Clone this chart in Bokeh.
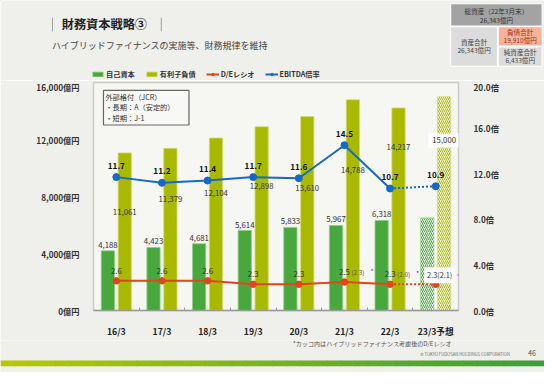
import numpy as np
from bokeh.plotting import figure
from bokeh.layouts import column
from bokeh.models import (Range1d, LinearAxis, FixedTicker, Label, BoxAnnotation,
                          Legend, LegendItem)
from bokeh.core.properties import value
from bokeh.embed import file_html
from bokeh.resources import INLINE

# ---------------- data ----------------
categories = ["16/3", "17/3", "18/3", "19/3", "20/3", "21/3", "22/3", "23/3予想"]
equity = [4188, 4423, 4681, 5614, 5833, 5967, 6318, 6500]          # 自己資本 (last = forecast)
debt = [11061, 11379, 12104, 12898, 13610, 14788, 14217, 15000]      # 有利子負債 (last = forecast)
de_ratio = [2.6, 2.6, 2.6, 2.3, 2.3, 2.5, 2.3, 2.3]                  # D/Eレシオ
de_hybrid = ["", "", "", "", "", "2.3", "2.0", "2.1"]                # ハイブリッド考慮後
ebitda = [11.7, 11.2, 11.4, 11.7, 11.6, 14.5, 10.7, 10.9]            # EBITDA倍率
left_ticks = [0, 4000, 8000, 12000, 16000]
left_tick_labels = ["0億円", "4,000億円", "8,000億円", "12,000億円", "16,000億円"]
right_ticks = [0, 4, 8, 12, 16, 20]
right_tick_labels = ["0.0倍", "4.0倍", "8.0倍", "12.0倍", "16.0倍", "20.0倍"]

# layout only: vertical placement of the debt value labels (in 億円 units)
debt_label_pos = [6885, 7803, 8262, 8721, 8590, 9836, 11475, 11934]

FONT = "Noto Sans CJK JP"
GREEN = "#48a83d"
OLIVE = "#a9b900"
RED = "#e0461d"
BLUE = "#1769c6"
TXT = "#333333"
BG = "#efefeb"

W, H = 544, 372
SX, SY = W / 560.0, H / 388.0     # slide (560x388) -> canvas scale

H_TOP = 80
H_CHART = 260
H_BOT = H - H_TOP - H_CHART

FR_L, FR_R = 93, 458              # chart frame edges (canvas px)
FR_T, FR_B = 82, 316


def deco_fig(h, y0):
    f = figure(width=W, height=h, output_backend="svg", toolbar_location=None,
               x_range=Range1d(0, W / SX), y_range=Range1d((y0 + h) / SY, y0 / SY),
               x_axis_type=None, y_axis_type=None, min_border=0, frame_align=False)
    f.grid.visible = False
    f.outline_line_color = None
    f.background_fill_color = BG
    f.border_fill_color = BG
    return f


def box(f, l, r, t, b, fill, line=None, lw=1, xr="default", yr="default"):
    f.add_layout(BoxAnnotation(left=l, right=r, top=t, bottom=b, x_range_name=xr,
                               y_range_name=yr, fill_color=fill, fill_alpha=1,
                               line_color=line, line_alpha=1, line_width=lw))


def lab(f, x, y, text, size, color=TXT, style="normal", align="left", xr="default", yr="default"):
    f.add_layout(Label(x=x, y=y, x_range_name=xr, y_range_name=yr, text=text,
                       text_font=FONT, text_font_size=size, text_color=color,
                       text_font_style=style, text_align=align, text_baseline="middle"))


# ======================= chart =======================
p = figure(width=W, height=H_CHART, output_backend="svg", toolbar_location=None,
           x_range=Range1d(0, 8), y_range=Range1d(0, 16000), frame_align=False,
           min_border_left=FR_L, min_border_right=W - FR_R,
           min_border_top=FR_T - H_TOP, min_border_bottom=H_TOP + H_CHART - FR_B)
p.background_fill_color = "#f6f6f3"
p.border_fill_color = BG
p.outline_line_color = "#cbcbcb"
p.outline_line_width = 1.5
p.grid.visible = False

p.extra_y_ranges = {"r": Range1d(0, 20), "py": Range1d(FR_B / SY, FR_T / SY)}
p.extra_x_ranges = {"px": Range1d(FR_L / SX, FR_R / SX)}

n = len(categories)
xc = np.arange(n) + 0.5
off = 0.185
bw = 0.29

xa = p.xaxis[0]
xa.ticker = FixedTicker(ticks=list(xc), minor_ticks=list(range(1, n)))
xa.major_label_overrides = {float(x): c for x, c in zip(xc, categories)}
xa.major_tick_line_color = None
xa.minor_tick_in = 3
xa.minor_tick_out = 0
xa.minor_tick_line_color = "#9a9a9a"
xa.axis_line_color = "#9a9a9a"
xa.axis_line_width = 1.5
xa.major_label_text_font = FONT
xa.major_label_text_font_size = "8.7px"
xa.major_label_text_font_style = "bold"
xa.major_label_text_color = "#222222"
xa.major_label_standoff = 8

ya = p.yaxis[0]
ya.ticker = FixedTicker(ticks=left_ticks)
ya.major_label_overrides = dict(zip(left_ticks, left_tick_labels))
ya.axis_line_color = None
ya.major_tick_line_color = None
ya.minor_tick_line_color = None
ya.major_label_standoff = 8
ya.major_label_text_font = FONT
ya.major_label_text_font_size = "8.2px"
ya.major_label_text_font_style = "bold"
ya.major_label_text_color = TXT

ra = LinearAxis(y_range_name="r", ticker=FixedTicker(ticks=right_ticks),
                major_label_overrides=dict(zip(right_ticks, right_tick_labels)))
ra.axis_line_color = None
ra.major_tick_line_color = None
ra.minor_tick_line_color = None
ra.major_label_standoff = 9
ra.major_label_text_font = FONT
ra.major_label_text_font_size = "8.2px"
ra.major_label_text_font_style = "bold"
ra.major_label_text_color = TXT
p.add_layout(ra, "right")

na = n - 1
bar_eq = dict(fill_color=GREEN, line_color="#8fcf84", line_width=0.8)
bar_debt = dict(fill_color=OLIVE, line_color="#d2dc70", line_width=0.8)
p.vbar(x=xc[:na] - off, top=equity[:na], width=bw, **bar_eq)
p.vbar(x=xc[:na] + off, top=debt[:na], width=bw, **bar_debt)
p.vbar(x=xc[na:] - off, top=equity[na:], width=bw, fill_color="#f1f7ec",
       line_color="#9dd290", line_width=0.8, hatch_pattern="/", hatch_color=GREEN,
       hatch_scale=4, hatch_weight=1)
p.vbar(x=xc[na:] + off, top=debt[na:], width=bw, fill_color="#f6f8e2",
       line_color="#d5de7a", line_width=0.8, hatch_pattern="/", hatch_color=OLIVE,
       hatch_scale=4, hatch_weight=1)

p.line(xc[:na], de_ratio[:na], y_range_name="r", color=RED, line_width=2)
p.line(xc[na - 1:], de_ratio[na - 1:], y_range_name="r", color=RED, line_width=2, line_dash="2 2")
p.scatter(xc, de_ratio, y_range_name="r", size=6.5, color=RED)

p.line(xc[:na], ebitda[:na], y_range_name="r", color=BLUE, line_width=2)
p.line(xc[na - 1:], ebitda[na - 1:], y_range_name="r", color=BLUE, line_width=2, line_dash="2 2")
p.scatter(xc, ebitda, y_range_name="r", size=7, color=BLUE)

p.text(x=xc[:na] - off, y=equity[:na], text=[f"{v:,}" for v in equity[:na]],
       y_offset=-3, text_align="center", text_baseline="bottom",
       text_font=value(FONT), text_font_size="7.8px", text_color=TXT)
p.text(x=xc[:na] + off, y=debt_label_pos[:na], text=[f"{v:,}" for v in debt[:na]],
       text_align="center", text_baseline="middle",
       text_font=value(FONT), text_font_size="7.8px", text_color=TXT)
p.add_layout(Label(x=xc[na] + off, y=debt_label_pos[na], text=f"{debt[na]:,}",
                   text_align="center", text_baseline="middle", text_font=FONT,
                   text_font_size="7.8px", text_color=TXT, background_fill_color="white",
                   padding=4))

p.text(x=xc, y=ebitda, y_range_name="r", text=[f"{v:.1f}" for v in ebitda],
       y_offset=-12, text_align="center", text_baseline="middle",
       text_font=value(FONT), text_font_size="8.2px", text_font_style="bold",
       text_color="#111111")

p.text(x=xc[:na], y=de_ratio[:na], y_range_name="r", text=[f"{v:.1f}" for v in de_ratio[:na]],
       y_offset=-10, text_align="center", text_baseline="middle",
       text_font=value(FONT), text_font_size="7.8px", text_color=TXT)
hy_idx = [i for i in range(na) if de_hybrid[i]]
p.text(x=xc[hy_idx], y=[de_ratio[i] for i in hy_idx], y_range_name="r",
       text=[f"({de_hybrid[i]})" for i in hy_idx], x_offset=7, y_offset=-10,
       text_align="left", text_baseline="middle",
       text_font=value(FONT), text_font_size="6.3px", text_color="#555555")
p.text(x=xc[hy_idx], y=[de_ratio[i] for i in hy_idx], y_range_name="r",
       text=["*"] * len(hy_idx), x_offset=26, y_offset=-11,
       text_align="left", text_baseline="middle",
       text_font=value(FONT), text_font_size="7px", text_color="#555555")
p.add_layout(Label(x=xc[na], y=de_ratio[na], y_range_name="r",
                   text=f"{de_ratio[na]:.1f}({de_hybrid[na]})", x_offset=4, y_offset=9,
                   text_align="center", text_baseline="middle", text_font=FONT,
                   text_font_size="7.3px", text_color=TXT, background_fill_color="white",
                   padding=3))
p.add_layout(Label(x=xc[na], y=de_ratio[na], y_range_name="r", text="*",
                   x_offset=21, y_offset=8, text_align="left", text_baseline="middle",
                   text_font=FONT, text_font_size="7px", text_color="#555555"))

# rating box (inside the frame; slide-pixel coordinates)
box(p, 106, 194, 94, 131, "#f8f8f6", "#666666", 1.2, "px", "py")
lab(p, 108, 101, "外部格付（JCR）", "7.2px", xr="px", yr="py")
lab(p, 108, 112, "・長期：A（安定的）", "7.2px", xr="px", yr="py")
lab(p, 108, 123, "・短期：J-1", "7.2px", xr="px", yr="py")

# ======================= top strip =======================
top = deco_fig(H_TOP, 0)
box(top, 53, 54, 18, 32, "#9a9a9a")
box(top, 165, 166, 18, 32, "#9a9a9a")
lab(top, 63, 25, "財務資本戦略③", "12.2px", "#222222", "bold")
lab(top, 53, 47, "ハイブリッドファイナンスの実施等、財務規律を維持", "9px", "#444444")

box(top, 463, 558, 3, 69, "#ffffff")
box(top, 464, 557, 4, 26, "#a3a3a3")
box(top, 464, 511, 28, 68, "#dcdcdc")
box(top, 513, 557, 28, 47, "#f6b39a")
box(top, 513, 557, 49, 68, "#dcdcdc")
lab(top, 510.5, 11, "総資産（22年3月末）", "6.6px", "#333333", align="center")
lab(top, 510.5, 20, "26,343億円", "6.6px", "#333333", align="center")
lab(top, 487.5, 43, "資産合計", "6.6px", "#444444", align="center")
lab(top, 487.5, 52, "26,343億円", "6.6px", "#444444", align="center")
lab(top, 535, 33, "負債合計", "6.6px", "#a0301a", align="center")
lab(top, 535, 41, "19,910億円", "6.6px", "#a0301a", align="center")
lab(top, 535, 54, "純資産合計", "6.6px", "#444444", align="center")
lab(top, 535, 62, "6,433億円", "6.6px", "#444444", align="center")

# legend swatches: off-canvas single points carrying the chart's mark styles
far = [-1000.0]
lg_eq = top.vbar(x=far, top=far, width=1, **bar_eq)
lg_debt = top.vbar(x=far, top=far, width=1, **bar_debt)
lg_de_l = top.line(x=far, y=far, color=RED, line_width=2)
lg_de_p = top.scatter(x=far, y=far, size=6, color=RED)
lg_eb_l = top.line(x=far, y=far, color=BLUE, line_width=2)
lg_eb_p = top.scatter(x=far, y=far, size=6, color=BLUE)
legend = Legend(items=[LegendItem(label="自己資本", renderers=[lg_eq]),
                       LegendItem(label="有利子負債", renderers=[lg_debt]),
                       LegendItem(label="D/Eレシオ", renderers=[lg_de_l, lg_de_p]),
                       LegendItem(label="EBITDA倍率", renderers=[lg_eb_l, lg_eb_p])],
                orientation="horizontal", location=(91, 1), margin=0, padding=0,
                spacing=10, glyph_width=13, glyph_height=6, label_height=7,
                label_standoff=2, background_fill_alpha=0, border_line_color=None,
                label_text_font=FONT, label_text_font_size="7.2px",
                label_text_font_style="bold", label_text_color=TXT)
top.add_layout(legend, "center")

# ======================= bottom strip =======================
bot = deco_fig(H_BOT, H_TOP + H_CHART)
lab(bot, 301, 358, "*カッコ内はハイブリッドファイナンス考慮後のD/Eレシオ", "6.1px", "#555555")
lab(bot, 432, 369, "© TOKYU FUDOSAN HOLDINGS CORPORATION", "4.2px", "#666666")
lab(bot, 543, 368, "46", "7.2px", "#555555")
c0 = np.array([0xb6, 0xc9, 0x00])
c1 = np.array([0x3c, 0x9e, 0x3a])
nseg = 40
edges = np.linspace(0, 560, nseg + 1)
for k in range(nseg):
    t = k / (nseg - 1)
    c = (c0 * (1 - t) + c1 * t).astype(int)
    box(bot, edges[k], edges[k + 1] + 0.6, 375.5, 381.5, "#%02x%02x%02x" % tuple(c))

layout = column(top, p, bot, spacing=0)
open("out.html", "w").write(file_html(layout, INLINE))
